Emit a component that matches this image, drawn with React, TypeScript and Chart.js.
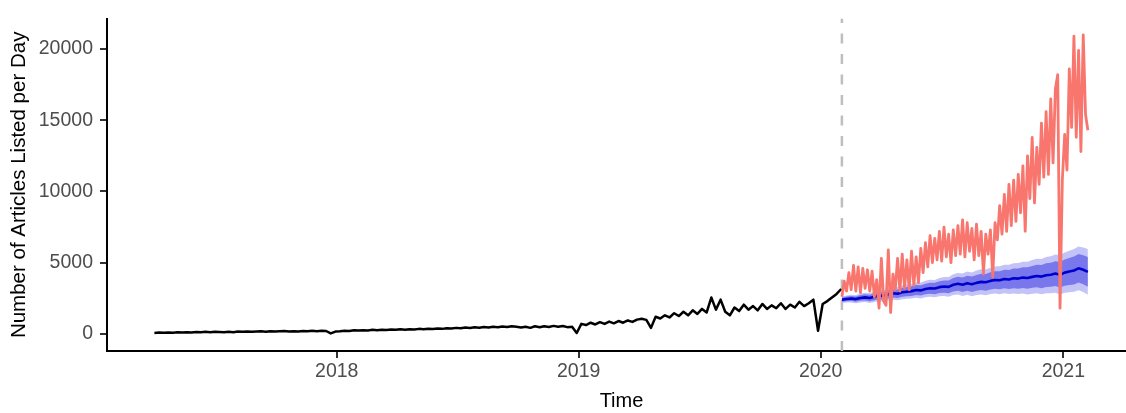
import React, { useEffect, useRef } from 'react';
import { Chart, registerables } from 'chart.js';

Chart.register(...registerables);

// ---------- data (x = days since 2017-01-01) ----------
const yearTickDays = [365, 730, 1095, 1461];
const yearTickLabels = ['2018', '2019', '2020', '2021'];
const yTickValues = [0, 5000, 10000, 15000, 20000];

const cutoffDay = 1127; // forecast origin (early Feb 2020)

// observed history before cutoff (weekly, from 2017-04-01)
const historyStartDay = 90;
const historyStepDays = 7;
const historyValues = [
  60, 90, 70, 100, 80, 110, 90, 120, 100, 130,
  110, 140, 120, 150, 130, 110, 150, 120, 160, 140,
  170, 140, 160, 180, 150, 190, 160, 180, 200, 170,
  190, 160, 200, 180, 210, 190, 220, 200, 30, 160,
  180, 220, 200, 250, 230, 260, 240, 280, 250, 290,
  270, 300, 280, 320, 290, 330, 310, 350, 320, 360,
  340, 380, 350, 400, 370, 420, 390, 440, 410, 460,
  430, 480, 450, 500, 470, 520, 480, 540, 500, 450,
  500, 420, 530, 460, 540, 480, 560, 500, 550, 470,
  500, 60, 700, 620, 780, 660, 820, 700, 860, 740,
  900, 780, 940, 840, 1000, 1060, 980, 420, 1200, 1080,
  1300, 1150, 1450, 1250, 1550, 1300, 1650, 1400, 1750, 1500,
  2550, 1700, 2400, 1550, 1300, 1850, 1600, 2050, 1700, 1950,
  1650, 2100, 1750, 2000, 1800, 2150, 1750, 2050, 1850, 2250,
  1950, 2150, 2400, 220, 2100, 2300, 2550, 2800, 3150,
];

// observed actuals after cutoff (twice weekly)
const actualStartDay = 1127;
const actualStepDays = 3.5;
const actualValues = [
  2600, 3700, 3000, 4300, 3100, 4800, 3000, 4700, 2900, 4600, 3200, 4500, 3000,
  4400, 2600, 3800, 1800, 5300, 2300, 2000, 5900, 1500, 4200,
  3100, 5300, 3000, 5600, 3200, 5200, 3100, 5800, 3400, 5400, 3600,
  6000, 4300, 6400, 4700, 6900, 5000, 6700, 5200, 7200, 5100, 7500, 5400, 7000, 5000, 7300, 5500,
  7600, 5600, 8000, 5400, 7800, 5800, 7400, 5200, 7700, 5500, 7200, 4200, 7000, 5600, 7300, 4000,
  7800, 6600, 9000, 7000, 9800, 7200, 10500, 7600, 10800, 7900, 11200,
  8500, 11800, 7200, 12500, 9500, 13800, 9200, 13100, 10500, 14800, 11000, 15600, 11200, 16500, 12000, 17200, 18200,
  1800, 10800, 14000, 11500, 18600, 14500, 20900, 13800, 19900, 12800, 21000, 15400, 14300,
];

// forecast (weekly)
const forecastStartDay = 1127;
const forecastStepDays = 7;
const forecastMean = [
  2400, 2450, 2480, 2440, 2520, 2560, 2520, 2600, 2700, 2660,
  2780, 2850, 2820, 2920, 2960, 3000, 3080, 3050, 3150, 3200,
  3180, 3280, 3320, 3300, 3450, 3520, 3450, 3560, 3480, 3580,
  3650, 3620, 3720, 3780, 3760, 3850, 3820, 3900, 3880, 3950,
  3920, 4000, 4060, 4020, 4120, 4150, 4230, 4150, 4300, 4380,
  4450, 4600, 4500, 4350,
];
const forecastLo80 = [
  2250, 2285, 2305, 2250, 2320, 2345, 2290, 2360, 2445, 2395,
  2500, 2560, 2520, 2605, 2635, 2660, 2730, 2685, 2775, 2815,
  2780, 2865, 2885, 2845, 2975, 3025, 2940, 3035, 2940, 3020,
  3080, 3030, 3115, 3160, 3125, 3200, 3150, 3210, 3170, 3220,
  3170, 3230, 3270, 3210, 3290, 3300, 3355, 3250, 3375, 3430,
  3470, 3600, 3480, 3310,
];
const forecastHi80 = [
  2550, 2615, 2655, 2630, 2720, 2775, 2750, 2840, 2955, 2925,
  3060, 3140, 3120, 3235, 3285, 3340, 3430, 3415, 3525, 3585,
  3580, 3695, 3755, 3755, 3925, 4015, 3960, 4085, 4020, 4140,
  4220, 4210, 4325, 4400, 4395, 4500, 4490, 4590, 4590, 4680,
  4670, 4770, 4850, 4830, 4950, 5000, 5105, 5050, 5225, 5330,
  5430, 5600, 5520, 5390,
];
const forecastLo95 = [
  2170, 2200, 2210, 2150, 2210, 2230, 2170, 2230, 2310, 2250,
  2350, 2400, 2355, 2435, 2460, 2480, 2540, 2490, 2575, 2605,
  2570, 2640, 2650, 2600, 2720, 2760, 2665, 2750, 2645, 2720,
  2770, 2715, 2790, 2825, 2780, 2850, 2790, 2840, 2790, 2830,
  2770, 2820, 2850, 2780, 2850, 2850, 2890, 2770, 2880, 2920,
  2950, 3070, 2940, 2750,
];
const forecastHi95 = [
  2630, 2700, 2750, 2730, 2830, 2890, 2870, 2970, 3090, 3070,
  3210, 3300, 3285, 3405, 3460, 3520, 3620, 3610, 3725, 3795,
  3790, 3920, 3990, 4000, 4180, 4280, 4235, 4370, 4315, 4440,
  4530, 4525, 4650, 4735, 4740, 4850, 4850, 4960, 4970, 5070,
  5070, 5180, 5270, 5260, 5390, 5450, 5570, 5530, 5720, 5840,
  5950, 6130, 6060, 5950,
];

// ---------- styling ----------
const FONT = '"Liberation Sans", Arial, Helvetica, sans-serif';
const X_MIN = 18.5;
const X_MAX = 1570.6;
const Y_MIN = -1204;
const Y_MAX = 22129;

function toPoints(start: number, step: number, vals: number[]) {
  return vals.map((v, i) => ({ x: start + i * step, y: v }));
}

export default function App() {
  const ref = useRef<HTMLCanvasElement>(null);

  useEffect(() => {
    if (!ref.current) return;

    const cutoffPlugin = {
      id: 'cutoffLine',
      beforeDatasetsDraw(chart: any) {
        const { ctx, chartArea, scales } = chart;
        const x = scales.x.getPixelForValue(cutoffDay);
        ctx.save();
        ctx.strokeStyle = '#BEBEBE';
        ctx.lineWidth = 2.5;
        ctx.setLineDash([10, 10.5]);
        ctx.beginPath();
        ctx.moveTo(x, chartArea.bottom);
        ctx.lineTo(x, chartArea.top);
        ctx.stroke();
        ctx.restore();
      },
    };

    const lineBase = {
      pointRadius: 0,
      pointHoverRadius: 0,
      tension: 0,
      borderJoinStyle: 'round' as const,
    };

    const chart = new Chart(ref.current, {
      type: 'line',
      data: {
        datasets: [
          {
            ...lineBase,
            label: 'Actual',
            data: toPoints(actualStartDay, actualStepDays, actualValues),
            borderColor: '#F8766D',
            borderWidth: 2.8,
            fill: false,
          },
          {
            ...lineBase,
            label: 'History',
            data: toPoints(historyStartDay, historyStepDays, historyValues),
            borderColor: '#000000',
            borderWidth: 2.5,
            fill: false,
          },
          {
            ...lineBase,
            label: 'Forecast',
            data: toPoints(forecastStartDay, forecastStepDays, forecastMean),
            borderColor: '#0000CC',
            borderWidth: 2.6,
            fill: false,
          },
          {
            ...lineBase,
            label: 'Hi80',
            data: toPoints(forecastStartDay, forecastStepDays, forecastHi80),
            borderColor: 'transparent',
            borderWidth: 0,
            backgroundColor: '#7878EC',
            fill: '+1',
          },
          {
            ...lineBase,
            label: 'Lo80',
            data: toPoints(forecastStartDay, forecastStepDays, forecastLo80),
            borderColor: 'transparent',
            borderWidth: 0,
            fill: false,
          },
          {
            ...lineBase,
            label: 'Hi95',
            data: toPoints(forecastStartDay, forecastStepDays, forecastHi95),
            borderColor: 'transparent',
            borderWidth: 0,
            backgroundColor: '#C3C3F8',
            fill: '+1',
          },
          {
            ...lineBase,
            label: 'Lo95',
            data: toPoints(forecastStartDay, forecastStepDays, forecastLo95),
            borderColor: 'transparent',
            borderWidth: 0,
            fill: false,
          },
        ],
      },
      options: {
        responsive: false,
        animation: false,
        events: [],
        devicePixelRatio: 1,
        layout: { padding: { top: 8, right: 4, bottom: 0, left: 0 } },
        plugins: {
          legend: { display: false },
          tooltip: { enabled: false },
        },
        scales: {
          x: {
            type: 'linear',
            min: X_MIN,
            max: X_MAX,
            afterBuildTicks: (s: any) => {
              s.ticks = yearTickDays.map((v) => ({ value: v }));
            },
            afterFit: (s: any) => {
              s.height = 62;
            },
            ticks: {
              autoSkip: false,
              maxRotation: 0,
              minRotation: 0,
              padding: 2,
              color: '#4D4D4D',
              font: { family: FONT, size: 19.5 },
              callback: (_v: any, i: number) => yearTickLabels[i],
            },
            grid: {
              drawOnChartArea: false,
              drawTicks: true,
              tickLength: 7,
              tickWidth: 2,
              tickColor: '#333333',
              lineWidth: 2,
            },
            border: { display: true, color: '#000000', width: 2 },
            title: {
              display: true,
              text: 'Time',
              color: '#000000',
              font: { family: FONT, size: 20 },
              padding: { top: 0, bottom: 0 },
            },
          },
          y: {
            type: 'linear',
            min: Y_MIN,
            max: Y_MAX,
            afterBuildTicks: (s: any) => {
              s.ticks = yTickValues.map((v) => ({ value: v }));
            },
            afterFit: (s: any) => {
              s.width = 107;
            },
            ticks: {
              padding: 7,
              color: '#4D4D4D',
              font: { family: FONT, size: 19.5 },
              callback: (v: any) => String(v),
            },
            grid: {
              drawOnChartArea: false,
              drawTicks: true,
              tickLength: 7,
              tickWidth: 2,
              tickColor: '#333333',
              lineWidth: 2,
            },
            border: { display: true, color: '#000000', width: 2 },
            title: {
              display: true,
              text: 'Number of Articles Listed per Day',
              color: '#000000',
              font: { family: FONT, size: 20.5 },
              padding: { top: 7.5, bottom: 0 },
            },
          },
        },
      },
      plugins: [cutoffPlugin],
    } as any);

    return () => chart.destroy();
  }, []);

  return (
    <div
      style={{
        position: 'fixed',
        left: 0,
        top: 0,
        width: 1126,
        height: 413,
        overflow: 'hidden',
        background: '#ffffff',
      }}
    >
      <canvas
        ref={ref}
        width={1140}
        height={413}
        style={{ display: 'block', width: 1140, height: 413 }}
      />
    </div>
  );
}
